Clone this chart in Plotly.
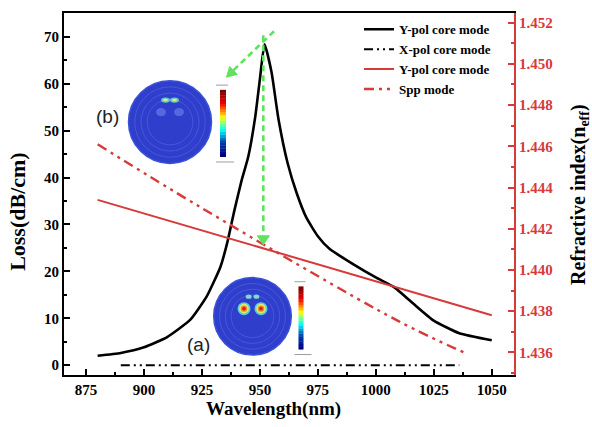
import plotly.graph_objects as go
from plotly.colors import sample_colorscale

# ---------------- data ----------------
ypol_wl = [880, 890, 900, 910, 920, 927, 933, 936, 939, 942, 945, 948, 950, 952, 955,
           958, 962, 966, 970, 975, 980, 990, 1000, 1008, 1016, 1025, 1036, 1050]
ypol_loss = [2.0, 2.6, 3.8, 6.0, 9.7, 14.6, 21.0, 26.3, 33.0, 39.2, 44.5, 53.0, 61.0, 68.4, 62.5,
             52.5, 43.0, 36.5, 31.5, 27.5, 24.8, 21.6, 18.7, 16.6, 13.2, 9.5, 6.8, 5.3]

xpol_wl = [890, 1036]
xpol_loss = [0.0, 0.0]

ypol_n_wl = [880, 1050]
ypol_n = [1.4434, 1.4378]

spp_wl = [880, 925, 1010, 1038]
spp_n = [1.4461, 1.4430, 1.4375, 1.4360]

x_ticks = [875, 900, 925, 950, 975, 1000, 1025, 1050]
loss_ticks = [0, 10, 20, 30, 40, 50, 60, 70]
n_ticks = [1.436, 1.438, 1.440, 1.442, 1.444, 1.446, 1.448, 1.450, 1.452]

names = ["Y-pol core mode", "X-pol core mode", "Y-pol core mode", "Spp mode"]
x_title = "Wavelength(nm)"
y_title = "Loss(dB/cm)"
y2_title = "Refractive index(n<sub>eff</sub>)"

# ---------------- style ----------------
W, H = 592, 427
L, R, T, B = 64, 514, 12.7, 375.5
RED = "#d63a3a"
GREEN = "#5fe35f"
SERIF = "Liberation Serif"
DDOT_K = "9px,4px,2px,4px,2px,4px"
DDOT_R = "10px,5px,3px,5px,3px,5px"


def px(x):
    return (x - L) / (R - L)


def py(y):
    return (B - y) / (B - T)


fig = go.Figure()
fig.add_trace(go.Scatter(x=ypol_wl, y=ypol_loss, name=names[0], mode="lines",
                         line=dict(color="black", width=2.6, shape="spline", smoothing=0.5)))
fig.add_trace(go.Scatter(x=xpol_wl, y=xpol_loss, name=names[1], mode="lines",
                         line=dict(color="black", width=2, dash=DDOT_K)))
fig.add_trace(go.Scatter(x=ypol_n_wl, y=ypol_n, name=names[2], mode="lines", yaxis="y2",
                         line=dict(color=RED, width=2)))
fig.add_trace(go.Scatter(x=spp_wl, y=spp_n, name=names[3], mode="lines", yaxis="y2",
                         line=dict(color=RED, width=2.4, dash=DDOT_R, shape="spline")))

shapes = []
annotations = []


def circle(cx, cy, rx, ry, fill, line=None, lw=0):
    return dict(type="circle", xref="paper", yref="paper", layer="above",
                x0=px(cx - rx), x1=px(cx + rx), y0=py(cy + ry), y1=py(cy - ry),
                fillcolor=fill, line=dict(color=line or fill, width=lw))


def ring(cx, cy, r):
    return dict(type="circle", xref="paper", yref="paper", layer="above",
                x0=px(cx - r), x1=px(cx + r), y0=py(cy + r), y1=py(cy - r),
                line=dict(color="rgba(95,115,238,0.45)", width=1))


def colorbar(x0, x1, y0, y1, n=24):
    cols = sample_colorscale("Jet", [i / (n - 1) for i in range(n)])
    out = []
    h = (y1 - y0) / n
    for i, c in enumerate(cols):
        yb = y1 - i * h
        out.append(dict(type="rect", xref="paper", yref="paper", layer="above",
                        x0=px(x0), x1=px(x1), y0=py(yb), y1=py(yb - h - 0.3),
                        fillcolor=c, line=dict(width=0)))
    out.append(dict(type="line", xref="paper", yref="paper", layer="above",
                    x0=px(x0 - 4), x1=px(x1 + 2), y0=py(y0 - 5), y1=py(y0 - 5),
                    line=dict(color="rgba(90,90,110,0.6)", width=1)))
    out.append(dict(type="line", xref="paper", yref="paper", layer="above",
                    x0=px(x0 - 4), x1=px(x1 + 8), y0=py(y1 + 5), y1=py(y1 + 5),
                    line=dict(color="rgba(90,90,110,0.6)", width=1)))
    return out


def tri(tip, base_c, half_w):
    (tx, ty), (bx, by) = tip, base_c
    dx, dy = tx - bx, ty - by
    n = (dx * dx + dy * dy) ** 0.5
    ux, uy = -dy / n * half_w, dx / n * half_w
    pts = [(tx, ty), (bx + ux, by + uy), (bx - ux, by - uy)]
    path = "M " + " L ".join(f"{px(a):.5f},{py(b):.5f}" for a, b in pts) + " Z"
    return dict(type="path", xref="paper", yref="paper", layer="above", path=path,
                fillcolor=GREEN, line=dict(color=GREEN, width=1))


def label(x, y, text, font, angle=0):
    return dict(xref="paper", yref="paper", x=px(x), y=py(y), text=text, showarrow=False,
                xanchor="center", yanchor="middle", textangle=angle, font=font)


BLUE = "#2f3fcc"
# (b) inset
cxb, cyb, rb = 170, 122, 41.5
shapes.append(circle(cxb, cyb, rb, rb, BLUE, "#3b52d8", 1.5))
for k in (0.85, 0.7, 0.55):
    shapes.append(ring(cxb, cyb, rb * k))
for sx in (-4.5, 4.5):
    shapes.append(circle(cxb + sx, 100, 4.5, 2.6, "#5ec8c8"))
    shapes.append(circle(cxb + sx, 100, 2.4, 1.4, "#d7ef7a"))
    shapes.append(circle(cxb + sx * 2, 112, 5, 4, "#5568e0"))
shapes += colorbar(220, 226, 90, 157)

# (a) inset
cxa, cya, ra = 252.5, 316.7, 38.8
shapes.append(circle(cxa, cya, ra, ra, BLUE, "#3b52d8", 1.5))
for k in (0.85, 0.7, 0.55):
    shapes.append(ring(cxa, cya, ra * k))
for sx in (-8.5, 8.5):
    shapes.append(circle(cxa + sx, 309, 6.5, 6.5, "#57d0d8"))
    shapes.append(circle(cxa + sx, 309, 4.8, 4.8, "#e8e860"))
    shapes.append(circle(cxa + sx, 309, 3.2, 3.2, "#f08a30"))
    shapes.append(circle(cxa + sx, 309, 1.8, 1.8, "#d82020"))
    shapes.append(circle(cxa + sx * 0.45, 297, 3, 2.2, "#7ed8d0"))
shapes += colorbar(298.5, 303.5, 287, 350)

# ---- green dashed arrows ----
shapes.append(dict(type="line", xref="paper", yref="paper", layer="above",
                   x0=px(263.3), x1=px(263.3), y0=py(35), y1=py(236),
                   line=dict(color=GREEN, width=2.6, dash="6px,4px")))
shapes.append(tri((263.3, 245), (263.3, 236), 6))
shapes.append(dict(type="line", xref="paper", yref="paper", layer="above",
                   x0=px(274), x1=px(233), y0=py(31), y1=py(70.5),
                   line=dict(color=GREEN, width=2.6, dash="6px,4px")))
shapes.append(tri((226.5, 77), (233.5, 70.2), 5.5))

# ---- labels (a), (b) ----
sans = dict(family="Liberation Sans", size=19, color="#222")
annotations.append(label(107, 116, "(b)", sans))
annotations.append(label(198, 345, "(a)", sans))

# ---- axis titles (placed as in the reference) ----
annotations.append(label(273, 410, x_title,
                         dict(family=SERIF, size=19, color="black", weight="bold")))
annotations.append(label(18, 212, y_title,
                         dict(family=SERIF, size=22, color="black", weight="bold"), -90))
annotations.append(label(580, 195, y2_title,
                         dict(family=SERIF, size=20, color="black", weight="bold"), -90))

tickfont = dict(family=SERIF, size=15, color="black", weight="bold")

fig.update_layout(
    width=W, height=H,
    margin=dict(l=L, r=W - R, t=T, b=H - B, autoexpand=False),
    plot_bgcolor="white", paper_bgcolor="white",
    font=dict(family=SERIF, color="black"),
    shapes=shapes, annotations=annotations,
    showlegend=True,
    legend=dict(x=px(359), y=py(14), xanchor="left", yanchor="top",
                bgcolor="rgba(0,0,0,0)", tracegroupgap=0, itemwidth=30,
                font=dict(family=SERIF, size=13, color="black", weight="bold")),
    xaxis=dict(range=[865.5, 1059.6], tickvals=x_ticks, ticks="inside", ticklen=6, tickwidth=1.5,
               tickcolor="black", showline=True, linecolor="black", linewidth=2, mirror=True,
               showgrid=False, zeroline=False, tickfont=tickfont, automargin=False,
               minor=dict(dtick=12.5, tick0=875, ticks="inside", ticklen=3, tickcolor="black")),
    yaxis=dict(range=[-2.1, 75.1], tickvals=loss_ticks, ticks="inside", ticklen=6, tickwidth=1.5,
               tickcolor="black", showline=True, linecolor="black", linewidth=2,
               showgrid=False, zeroline=False, tickfont=tickfont, automargin=False,
               minor=dict(dtick=5, tick0=0, ticks="inside", ticklen=3, tickcolor="black")),
    yaxis2=dict(overlaying="y", side="right", range=[1.4349, 1.45247], tickvals=n_ticks,
                tickformat=".3f", ticks="inside", ticklen=6, tickwidth=1.5, tickcolor=RED,
                showline=True, linecolor=RED, linewidth=2, showgrid=False, zeroline=False,
                automargin=False,
                tickfont=dict(family=SERIF, size=15, color=RED, weight="bold"),
                minor=dict(dtick=0.001, tick0=1.436, ticks="inside", ticklen=3, tickcolor=RED)),
)

fig.write_html("out.html", config={"displayModeBar": False},
               post_script="document.body.style.margin='0';document.body.style.overflow='hidden';")
